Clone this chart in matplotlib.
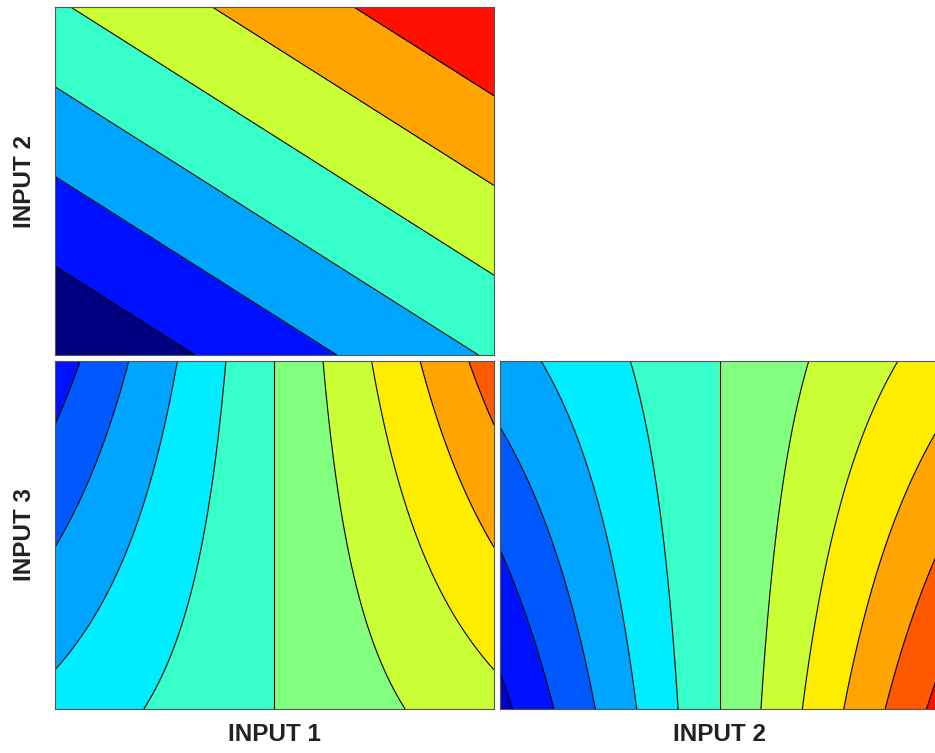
import numpy as np
import matplotlib
matplotlib.use("Agg")
import matplotlib.pyplot as plt
from matplotlib.colors import LinearSegmentedColormap

# response model in coded units (-1..1), values in contour-level units
input_names = ["INPUT 1", "INPUT 2", "INPUT 3"]
intercept = 7.0
main_effects = [3.1, 3.88, 0.0]        # x1, x2, x3
interactions = {(0, 2): 1.42, (1, 2): -1.42}

top_levels = np.arange(0, 15, 2)
bottom_levels = np.arange(0, 15, 1)
color_max = 14.0

# MATLAB style jet
jet = LinearSegmentedColormap.from_list("mjet", [
    (0, (0, 0, 0.5)), (1 / 8, (0, 0, 1)), (3 / 8, (0, 1, 1)),
    (5 / 8, (1, 1, 0)), (7 / 8, (1, 0, 0)), (1, (0.5, 0, 0))])


def response(x):
    z = intercept + sum(b * xi for b, xi in zip(main_effects, x))
    for (i, j), b in interactions.items():
        z = z + b * x[i] * x[j]
    return z


def panel(ax, ix, iy, levels):
    g = np.linspace(-1, 1, 301)
    X, Y = np.meshgrid(g, g)
    x = [np.zeros_like(X) for _ in range(3)]
    x[ix], x[iy] = X, Y
    Z = response(x)
    cols = [jet(l / color_max) for l in levels[:-1]]
    ax.contourf(X, Y, Z, levels=levels, colors=cols)
    ax.contour(X, Y, Z, levels=levels, colors="k", linewidths=0.8)
    ax.set_xticks([])
    ax.set_yticks([])
    for s in ax.spines.values():
        s.set_color("#555555")
        s.set_linewidth(0.8)


fig = plt.figure(figsize=(9.35, 7.53), dpi=100)
ax1 = fig.add_axes([0.0588, 0.5286, 0.4695, 0.4622])
ax2 = fig.add_axes([0.0588, 0.0584, 0.4695, 0.4622])
ax3 = fig.add_axes([0.5348, 0.0584, 0.4695, 0.4622])

panel(ax1, 0, 1, top_levels)
panel(ax2, 0, 2, bottom_levels)
panel(ax3, 1, 2, bottom_levels)

font = dict(family="Liberation Sans", fontsize=17.5, fontweight="bold",
            ha="center", va="center", color="#222222")
fig.text(0.0257, 0.7596, input_names[1], rotation=90, **font)
fig.text(0.0257, 0.290, input_names[2], rotation=90, **font)
fig.text(0.294, 0.0252, input_names[0], **font)
fig.text(0.770, 0.0252, input_names[1], **font)

fig.savefig("out.png", dpi=100)
